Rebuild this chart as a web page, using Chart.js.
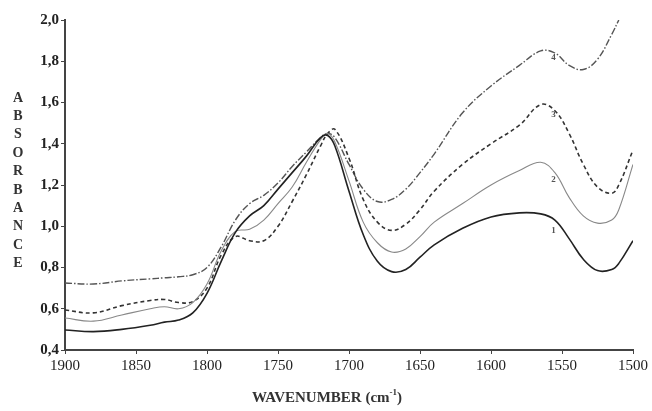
<!DOCTYPE html>
<html>
<head>
<meta charset="utf-8">
<script src="https://cdn.jsdelivr.net/npm/chart.js@4/dist/chart.umd.min.js"></script>
<style>
  html, body { margin: 0; padding: 0; background: #fff; }
  #wrap { width: 652px; height: 411px; position: relative; }
</style>
</head>
<body>
<div id="wrap"><canvas id="chart" width="652" height="411"></canvas></div>
<script>
// wavenumbers (cm-1) sampled along the spectra
const wavenumbers = [1900, 1880, 1860, 1840, 1830, 1820, 1810, 1800, 1790, 1780, 1770, 1760, 1750, 1740, 1730, 1720, 1715, 1710, 1700, 1690, 1680, 1670, 1660, 1650, 1640, 1620, 1600, 1580, 1565, 1555, 1545, 1535, 1525, 1515, 1510, 1500];

const curve1 = [0.497, 0.489, 0.50, 0.52, 0.535, 0.545, 0.58, 0.675, 0.83, 0.97, 1.05, 1.10, 1.18, 1.26, 1.34, 1.43, 1.44, 1.39, 1.17, 0.96, 0.83, 0.78, 0.79, 0.85, 0.91, 0.99, 1.045, 1.065, 1.06, 1.03, 0.94, 0.84, 0.785, 0.79, 0.82, 0.93];
const curve2 = [0.555, 0.54, 0.57, 0.60, 0.61, 0.60, 0.63, 0.72, 0.88, 0.975, 0.985, 1.03, 1.11, 1.19, 1.31, 1.42, 1.45, 1.41, 1.22, 1.02, 0.92, 0.875, 0.89, 0.95, 1.02, 1.11, 1.20, 1.27, 1.31, 1.26, 1.14, 1.05, 1.015, 1.03, 1.08, 1.30];
const curve3 = [0.594, 0.58, 0.615, 0.64, 0.645, 0.63, 0.635, 0.70, 0.86, 0.95, 0.93, 0.93, 1.00, 1.12, 1.25, 1.39, 1.45, 1.47, 1.33, 1.13, 1.02, 0.98, 1.01, 1.08, 1.17, 1.30, 1.40, 1.49, 1.59, 1.56, 1.45, 1.30, 1.19, 1.16, 1.20, 1.37];
const curve4 = [0.725, 0.72, 0.735, 0.745, 0.75, 0.755, 0.765, 0.80, 0.90, 1.03, 1.11, 1.15, 1.21, 1.29, 1.36, 1.43, 1.45, 1.43, 1.30, 1.18, 1.12, 1.13, 1.18, 1.26, 1.35, 1.55, 1.68, 1.78, 1.85, 1.84, 1.78, 1.76, 1.81, 1.93, 2.0, null];

// curve number labels, in data coordinates
const curveNames = ["1", "2", "3", "4"];
const nameX = [1556, 1556, 1556, 1556];
const nameY = [0.98, 1.224, 1.54, 1.816];

function toPoints(vals) {
  return wavenumbers.map((w, i) => ({ x: w, y: vals[i] }));
}

const serif = "'Liberation Serif', 'Times New Roman', serif";

const axisTitles = {
  id: "axisTitles",
  afterDraw(chart) {
    const ctx = chart.ctx;
    const xs = chart.scales.x, ys = chart.scales.y;
    ctx.save();
    ctx.fillStyle = "#333";
    ctx.textAlign = "center";
    ctx.textBaseline = "middle";

    // stacked y title
    ctx.font = "bold 14px " + serif;
    "ABSORBANCE".split("").forEach((ch, i) => ctx.fillText(ch, 18, 98 + i * 18.4));

    // x title with superscript
    const main = "WAVENUMBER (cm";
    const sup = "-1";
    ctx.font = "bold 15px " + serif;
    const wMain = ctx.measureText(main).width;
    const wEnd = ctx.measureText(")").width;
    ctx.font = "bold 9px " + serif;
    const wSup = ctx.measureText(sup).width;
    const x0 = 327 - (wMain + wSup + wEnd) / 2;
    ctx.textAlign = "left";
    ctx.font = "bold 15px " + serif;
    ctx.fillText(main, x0, 398);
    ctx.font = "bold 9px " + serif;
    ctx.fillText(sup, x0 + wMain, 393);
    ctx.font = "bold 15px " + serif;
    ctx.fillText(")", x0 + wMain + wSup, 398);

    // curve numbers
    ctx.font = "bold 9px " + serif;
    ctx.fillStyle = "#555";
    ctx.textAlign = "center";
    curveNames.forEach((n, i) => {
      ctx.fillText(n, xs.getPixelForValue(nameX[i]), ys.getPixelForValue(nameY[i]));
    });
    ctx.restore();
  }
};

new Chart(document.getElementById("chart").getContext("2d"), {
  type: "line",
  data: {
    datasets: [
      { label: "1", data: toPoints(curve1), borderColor: "#222", borderWidth: 1.6 },
      { label: "2", data: toPoints(curve2), borderColor: "#888", borderWidth: 1.1 },
      { label: "3", data: toPoints(curve3), borderColor: "#333", borderWidth: 1.6, borderDash: [4, 3] },
      { label: "4", data: toPoints(curve4), borderColor: "#555", borderWidth: 1.4, borderDash: [7, 2, 1.5, 2] }
    ]
  },
  options: {
    responsive: false,
    animation: false,
    layout: { padding: { left: 0, right: 19, top: 20, bottom: 0 } },
    datasets: {
      line: {
        pointRadius: 0,
        fill: false,
        tension: 0.4
      }
    },
    plugins: {
      legend: { display: false },
      tooltip: { enabled: false }
    },
    scales: {
      x: {
        type: "linear",
        reverse: true,
        min: 1500,
        max: 1900,
        afterFit(scale) { scale.height = 61; },
        grid: { drawOnChartArea: false, drawTicks: true, tickLength: 4, color: "#444" },
        border: { display: true, color: "#444", width: 2 },
        ticks: {
          stepSize: 50,
          padding: 3,
          color: "#222",
          font: { family: serif, size: 15 },
          maxRotation: 0,
          callback: v => String(v)
        }
      },
      y: {
        min: 0.4,
        max: 2.0,
        afterFit(scale) { scale.width = 65; },
        grid: { drawOnChartArea: false, drawTicks: true, tickLength: 4, color: "#444" },
        border: { display: true, color: "#444", width: 2 },
        ticks: {
          stepSize: 0.2,
          padding: 2,
          color: "#222",
          font: { family: serif, size: 15, weight: "bold" },
          callback: v => v.toFixed(1).replace(".", ",")
        }
      }
    }
  },
  plugins: [axisTitles]
});
</script>
</body>
</html>
